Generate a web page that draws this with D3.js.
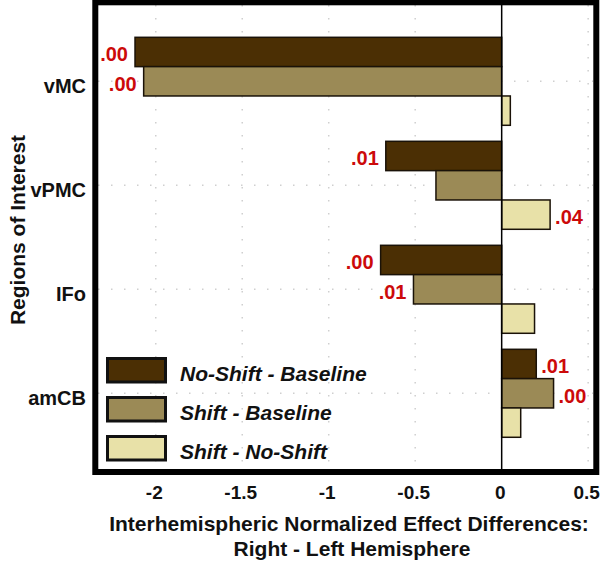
<!DOCTYPE html>
<html>
<head>
<meta charset="utf-8">
<script src="https://cdn.jsdelivr.net/npm/d3@7"></script>
<style>
  html, body { margin: 0; padding: 0; background: #fff; }
  svg { display: block; font-family: "Liberation Sans", Arial, sans-serif; }
</style>
</head>
<body>
<svg id="chart" width="601" height="561"></svg>
<script>
// ---- data ----
const categories = ["vMC", "vPMC", "IFo", "amCB"];
const seriesNames = ["No-Shift - Baseline", "Shift - Baseline", "Shift - No-Shift"];
const noShiftBaseline = [-2.12, -0.67, -0.70, 0.20];
const shiftBaseline   = [-2.07, -0.38, -0.51, 0.30];
const shiftNoShift    = [0.05, 0.28, 0.19, 0.11];
const pNoShiftBaseline = [".00", ".01", ".00", ".01"];
const pShiftBaseline   = [".00", "", ".01", ".00"];
const pShiftNoShift    = ["", ".04", "", ""];
const xTicks = [-2, -1.5, -1, -0.5, 0, 0.5];
const xTitle1 = "Interhemispheric Normalized Effect Differences:";
const xTitle2 = "Right - Left Hemisphere";
const yTitle = "Regions of Interest";
const colors = ["#4b2f04", "#9b8a56", "#e8e1a8"];

const seriesValues = [noShiftBaseline, shiftBaseline, shiftNoShift];
const seriesLabels = [pNoShiftBaseline, pShiftBaseline, pShiftNoShift];

// ---- layout ----
const svg = d3.select("#chart");
const plot = { left: 98, right: 593, top: 5, bottom: 469 };

const x = d3.scaleLinear().domain([-2.334, 0.528]).range([plot.left, plot.right]);
const y = d3.scaleBand().domain(categories).range([21.3, 453.3])
  .paddingInner(0.154).paddingOuter(0.154);
const ySub = d3.scaleBand().domain(d3.range(seriesNames.length)).range([0, y.bandwidth()]);

const grid = svg.append("g");
grid.selectAll("line.v").data(xTicks.filter(t => t !== 0)).join("line")
  .attr("x1", d => x(d)).attr("x2", d => x(d))
  .attr("y1", plot.top).attr("y2", plot.bottom)
  .attr("stroke", "#cfcfcf").attr("stroke-width", 1.5)
  .attr("stroke-dasharray", "1.5,11.5");
grid.selectAll("line.h").data(categories).join("line")
  .attr("x1", plot.left).attr("x2", plot.right)
  .attr("y1", d => y(d) + y.bandwidth() / 2).attr("y2", d => y(d) + y.bandwidth() / 2)
  .attr("stroke", "#cfcfcf").attr("stroke-width", 1.5)
  .attr("stroke-dasharray", "1.5,11.5");

const barData = [];
categories.forEach((c, i) => {
  seriesValues.forEach((vals, s) => {
    barData.push({ cat: c, s, v: vals[i], label: seriesLabels[s][i] });
  });
});

svg.append("g").selectAll("rect").data(barData).join("rect")
  .attr("x", d => x(Math.min(0, d.v)))
  .attr("width", d => Math.abs(x(d.v) - x(0)))
  .attr("y", d => y(d.cat) + ySub(d.s))
  .attr("height", ySub.bandwidth())
  .attr("fill", d => colors[d.s])
  .attr("stroke", "#1a1208").attr("stroke-width", 1.5);

svg.append("line")
  .attr("x1", x(0)).attr("x2", x(0))
  .attr("y1", plot.top).attr("y2", plot.bottom)
  .attr("stroke", "#000").attr("stroke-width", 1.5);

svg.append("g").selectAll("text").data(barData.filter(d => d.label)).join("text")
  .attr("x", d => d.v < 0 ? x(d.v) - 7 : x(d.v) + 5)
  .attr("y", d => y(d.cat) + ySub(d.s) + ySub.bandwidth() / 2 + 9.5)
  .attr("text-anchor", d => d.v < 0 ? "end" : "start")
  .attr("fill", "#cc0a0a")
  .attr("font-size", 20).attr("font-weight", "bold")
  .text(d => d.label);

const legend = svg.append("g");
const legY = [357, 396, 435];
seriesNames.forEach((name, i) => {
  legend.append("rect")
    .attr("x", 107.5).attr("y", legY[i] + 1.5)
    .attr("width", 58).attr("height", 23.5)
    .attr("fill", colors[i]).attr("stroke", "#111").attr("stroke-width", 3);
  legend.append("text")
    .attr("x", 180).attr("y", legY[i] + 23.5)
    .attr("font-size", 21).attr("font-weight", "bold").attr("font-style", "italic")
    .attr("fill", "#111")
    .text(name);
});

svg.append("rect")
  .attr("x", 95.3).attr("y", 2.3)
  .attr("width", 501).attr("height", 469.7)
  .attr("fill", "none").attr("stroke", "#000").attr("stroke-width", 6);

const xAxis = d3.axisBottom(x).tickValues(xTicks).tickSize(0)
  .tickFormat(d => d === 0 ? "0" : String(d));
const gx = svg.append("g").attr("transform", `translate(-2,${482})`).call(xAxis);
gx.select(".domain").remove();
gx.selectAll("text")
  .attr("font-size", 19).attr("font-weight", "bold").attr("fill", "#111")
  .attr("font-family", "'Liberation Sans', Arial, sans-serif");

const yAxis = d3.axisLeft(y).tickSize(0);
const gy = svg.append("g").attr("transform", `translate(${86},0)`).call(yAxis);
gy.select(".domain").remove();
gy.selectAll("text")
  .attr("x", 0).attr("dy", "0.5em")
  .attr("transform", "translate(0,2)")
  .attr("font-size", 20).attr("font-weight", "bold").attr("fill", "#111")
  .attr("font-family", "'Liberation Sans', Arial, sans-serif");

svg.append("text")
  .attr("x", 349).attr("y", 531)
  .attr("text-anchor", "middle")
  .attr("font-size", 21).attr("font-weight", "bold").attr("fill", "#111")
  .text(xTitle1);
svg.append("text")
  .attr("x", 352).attr("y", 556)
  .attr("text-anchor", "middle")
  .attr("font-size", 21).attr("font-weight", "bold").attr("fill", "#111")
  .text(xTitle2);
svg.append("text")
  .attr("transform", "translate(25,230) rotate(-90)")
  .attr("text-anchor", "middle")
  .attr("font-size", 21).attr("font-weight", "bold").attr("fill", "#111")
  .text(yTitle);
</script>
</body>
</html>
